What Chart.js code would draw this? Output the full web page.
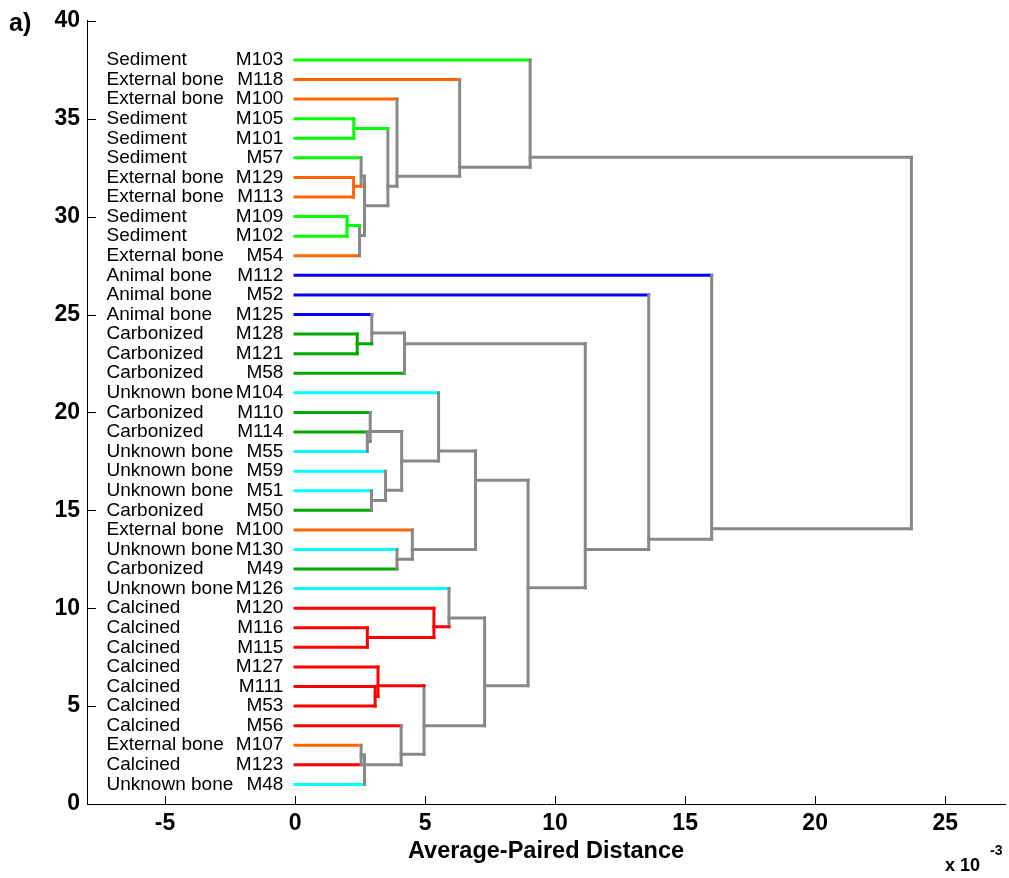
<!DOCTYPE html>
<html><head><meta charset="utf-8">
<script src="https://cdn.jsdelivr.net/npm/chart.js@4/dist/chart.umd.min.js"></script>
<style>html,body{margin:0;padding:0;background:#fff;overflow:hidden}#wrap{position:relative;width:1009px;height:878px}</style>
</head><body><div id="wrap"><canvas id="c" width="1009" height="878"></canvas></div>
<script>
// ---- leaves, listed top to bottom ----
const leafCategories = ['Sediment','External bone','External bone','Sediment','Sediment','Sediment','External bone','External bone','Sediment','Sediment','External bone','Animal bone','Animal bone','Animal bone','Carbonized','Carbonized','Carbonized','Unknown bone','Carbonized','Carbonized','Unknown bone','Unknown bone','Unknown bone','Carbonized','External bone','Unknown bone','Carbonized','Unknown bone','Calcined','Calcined','Calcined','Calcined','Calcined','Calcined','Calcined','External bone','Calcined','Unknown bone'];
const leafIds = ['M103','M118','M100','M105','M101','M57','M129','M113','M109','M102','M54','M112','M52','M125','M128','M121','M58','M104','M110','M114','M55','M59','M51','M50','M100','M130','M49','M126','M120','M116','M115','M127','M111','M53','M56','M107','M123','M48'];
const leafPositions = [38,37,36,35,34,33,32,31,30,29,28,27,26,25,24,23,22,21,20,19,18,17,16,15,14,13,12,11,10,9,8,7,6,5,4,3,2,1];
const leafMergeHeights = [9.04,6.33,3.92,2.26,2.26,2.54,2.25,2.25,2.0,2.0,2.48,16.02,13.6,2.95,2.39,2.39,4.21,5.52,2.89,2.78,2.78,3.48,2.94,2.94,4.51,3.92,3.92,5.92,5.34,2.78,2.78,3.19,3.08,3.08,4.08,2.54,2.54,2.67];

// ---- internal links (x 10^-3) ----
const nodeHeights      = [2.26,2.25,2.54,2.0,2.48,2.67,3.57,3.92,6.33,9.04,2.39,2.95,4.21,2.78,2.89,2.94,3.48,4.1,5.52,3.92,4.51,6.94,2.78,5.34,5.92,3.08,3.19,2.54,2.67,4.08,4.96,7.29,8.96,11.16,13.6,16.02,23.7];
const nodeSpanHigh     = [35,32,33,30,29.54,32.06,34.5,36,37,38,24,25,24.05,19,20,16,17,19.03,21,13,14,18.03,9,10,11,6,7,3,2.5,4,6.04,9.5,16.53,23.5,26,27,33.03];
const nodeSpanLow      = [34,31,31.55,29,28,29.03,30.56,31.55,32.06,32.52,23,23.5,22,18,18.52,15,15.5,16.02,17.52,12,12.5,13.0,8,8.5,9.05,5,5.5,2,1,2.0,2.54,4.0,6.04,11.04,13.0,13.52,14.06];
const nodeOutY         = [34.5,31.55,32.06,29.54,29.03,30.56,31.55,32.06,32.52,33.03,23.5,24.05,23.5,18.52,19.03,15.5,16.02,17.52,18.03,12.5,13.0,16.53,8.5,9.05,9.5,5.5,6.04,2.5,2.0,2.54,4.0,6.04,11.04,13.0,13.52,14.06,null];
const nodeParentHeights= [3.57,2.54,2.67,2.48,2.67,3.57,3.92,6.33,9.04,23.7,2.95,4.21,11.16,2.89,4.1,3.48,4.1,5.52,6.94,4.51,6.94,8.96,5.34,5.92,7.29,3.19,4.96,2.67,4.08,4.96,7.29,8.96,11.16,13.6,16.02,23.7,null];
const nodeGroups       = ['Sediment','External bone','link','Sediment','link','link','link','link','link','link','Carbonized','link','link','link','link','link','link','link','link','link','link','link','Calcined','Calcined','link','Calcined','Calcined','link','link','link','link','link','link','link','link','link','link'];

const yTicks = [0,5,10,15,20,25,30,35,40];
const xTicks = [-5,0,5,10,15,20,25];

const groupColors = {
  'Sediment':'#00ff00','External bone':'#ff6600','Animal bone':'#0000ff',
  'Carbonized':'#00a800','Unknown bone':'#00ffff','Calcined':'#ff0000','link':'#888888'
};

const datasets = [];
function seg(pts, color){
  datasets.push({data:pts, borderColor:color, backgroundColor:color, borderWidth:3,
    showLine:true, pointRadius:0, pointHoverRadius:0, borderCapStyle:'square', fill:false, tension:0});
}
nodeHeights.forEach((h,i)=>{
  const c = groupColors[nodeGroups[i]];
  seg([{x:h,y:nodeSpanHigh[i]},{x:h,y:nodeSpanLow[i]}], c);
  if (nodeOutY[i] !== null) seg([{x:h,y:nodeOutY[i]},{x:nodeParentHeights[i],y:nodeOutY[i]}], c);
});
leafPositions.forEach((p,i)=>{
  seg([{x:0,y:p},{x:leafMergeHeights[i],y:p}], groupColors[leafCategories[i]]);
});

const FONT = '"Liberation Sans", Arial, Helvetica, sans-serif';

const extras = {
  id:'extras',
  afterDraw(chart){
    const {ctx, scales:{x, y}, chartArea:a} = chart;
    ctx.save();
    ctx.strokeStyle = '#000'; ctx.lineWidth = 1;
    yTicks.forEach(v=>{ const py = Math.round(y.getPixelForValue(v))+0.5;
      ctx.beginPath(); ctx.moveTo(a.left, py); ctx.lineTo(a.left+9, py); ctx.stroke(); });
    xTicks.forEach(v=>{ const px = Math.round(x.getPixelForValue(v))+0.5;
      ctx.beginPath(); ctx.moveTo(px, a.bottom); ctx.lineTo(px, a.bottom-8); ctx.stroke(); });
    ctx.fillStyle = '#000';
    ctx.font = '19px ' + FONT;
    ctx.textBaseline = 'middle';
    leafPositions.forEach((p,i)=>{
      const py = y.getPixelForValue(p);
      ctx.textAlign = 'left';
      ctx.fillText(leafCategories[i], x.getPixelForValue(-7.25), py);
      ctx.textAlign = 'right';
      ctx.fillText(leafIds[i], x.getPixelForValue(-0.45), py);
    });
    ctx.textAlign = 'left'; ctx.textBaseline = 'alphabetic';
    ctx.font = 'bold 25px ' + FONT;
    ctx.fillText('a)', 9, 31);
    ctx.font = 'bold 18px ' + FONT;
    ctx.fillText('x 10', 945, 871);
    ctx.font = 'bold 14px ' + FONT;
    ctx.fillText('-3', 990, 855);
    ctx.restore();
  }
};

new Chart(document.getElementById('c'), {
  type:'scatter',
  data:{datasets},
  options:{
    responsive:false, animation:false, events:[],
    layout:{padding:{top:20,right:4,left:0,bottom:0}},
    plugins:{legend:{display:false}, tooltip:{enabled:false}},
    scales:{
      x:{type:'linear', min:-8, max:27.3,
        afterFit(s){ s.height = 74; },
        grid:{display:true, drawOnChartArea:false, drawTicks:false},
        border:{display:true, color:'#000', width:1},
        ticks:{stepSize:5, includeBounds:false, padding:6, color:'#000',
          font:{family:FONT, size:23, weight:'bold'}},
        title:{display:true, text:'Average-Paired Distance', color:'#000',
          font:{family:FONT, size:23.5, weight:'bold'}, padding:{top:0,bottom:12}}
      },
      y:{type:'linear', min:0, max:40,
        afterFit(s){ s.width = 87; },
        grid:{display:true, drawOnChartArea:false, drawTicks:false},
        border:{display:true, color:'#000', width:1},
        ticks:{stepSize:5, includeBounds:false, padding:7, color:'#000',
          font:{family:FONT, size:23, weight:'bold'}}
      }
    }
  },
  plugins:[extras]
});
</script></body></html>
